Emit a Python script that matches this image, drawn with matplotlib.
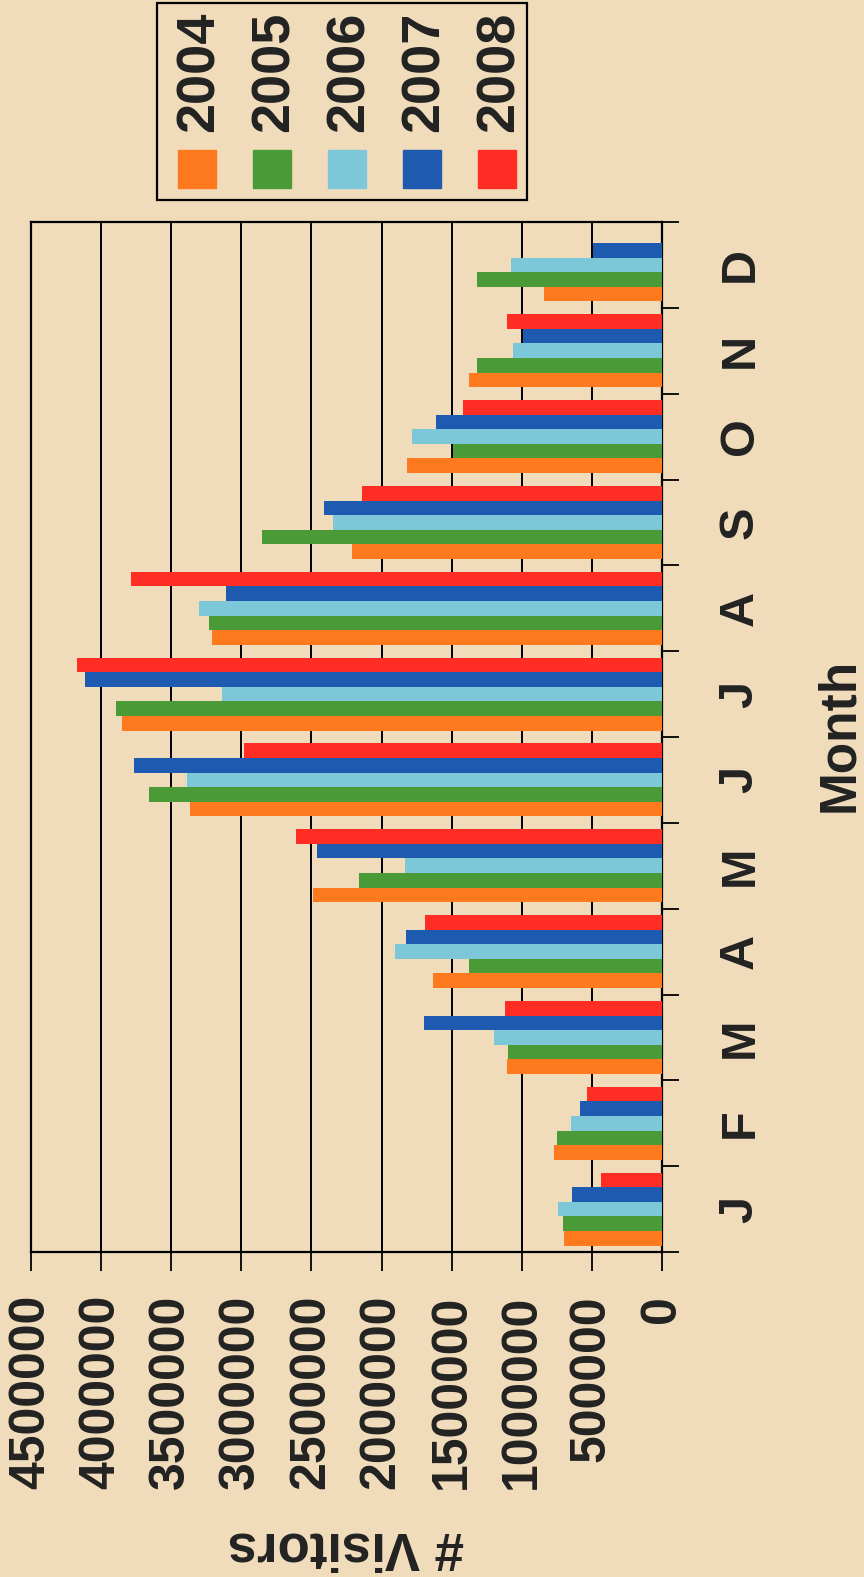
import numpy as np
import matplotlib.pyplot as plt
from matplotlib.patches import Rectangle

# --- data (visitors per month) ---
months = ["J", "F", "M", "A", "M", "J", "J", "A", "S", "O", "N", "D"]
years = ["2004", "2005", "2006", "2007", "2008"]
colors = ["#FF7A1E", "#4B9A38", "#7DC8D8", "#1E5AAF", "#FF2D23"]

v2004 = [697000, 768000, 1107000, 1633000, 2491000, 3364000, 3852000, 3210000, 2210000, 1817000, 1376000, 838000]
v2005 = [707000, 752000, 1101000, 1375000, 2159000, 3661000, 3891000, 3231000, 2855000, 1491000, 1322000, 1322000]
v2006 = [744000, 652000, 1196000, 1906000, 1832000, 3391000, 3136000, 3305000, 2343000, 1781000, 1062000, 1080000]
v2007 = [640000, 587000, 1694000, 1826000, 2461000, 3762000, 4112000, 3112000, 2414000, 1609000, 990000, 495000]
v2008 = [437000, 534000, 1119000, 1692000, 2607000, 2978000, 4169000, 3787000, 2142000, 1417000, 1107000, np.nan]
series = [v2004, v2005, v2006, v2007, v2008]

value_ticks = np.arange(0, 4500001, 500000)

bg = "#F0DCBB"
W, H = 864, 1577
fig = plt.figure(figsize=(W / 100, H / 100), dpi=100, facecolor=bg)
plt.rcParams["font.family"] = ["Liberation Sans", "DejaVu Sans"]
plt.rcParams["font.weight"] = "bold"

# axes in pixel coordinates (chart is shown rotated 90 deg)
left, right, top, bottom = 31, 662, 222, 1252
ax = fig.add_axes([left / W, 1 - bottom / H, (right - left) / W, (bottom - top) / H])
ax.set_facecolor("none")

y = np.arange(len(months))
bh = 0.17
for k, (vals, c) in enumerate(zip(series, colors)):
    ax.barh(y + (k - 2) * bh, vals, height=bh, color=c, zorder=3)

ax.set_xlim(4500000, 0)
ax.set_ylim(-0.5, 11.5)
ax.set_axisbelow(True)
ax.grid(axis="x", color="black", lw=1.4)

for s in ax.spines.values():
    s.set_color("black")
    s.set_linewidth(1.6)

# value axis (bottom)
ax.set_xticks(value_ticks)
ax.set_xticklabels([str(v) for v in value_ticks], rotation=90, fontsize=36, fontweight="bold", color="#222222")
ax.tick_params(axis="x", direction="out", length=14, width=1.3, pad=17)

# month axis (right)
ax.yaxis.tick_right()
ax.set_yticks(np.arange(-0.5, 12, 1))
ax.set_yticklabels([])
ax.tick_params(axis="y", which="major", direction="out", length=12, width=1.3)
ax.set_yticks(y, minor=True)
ax.set_yticklabels(months, minor=True, fontsize=35, fontweight="bold", color="#222222")
ax.tick_params(axis="y", which="minor", length=0, pad=40)
for lab in ax.get_yticklabels(minor=True):
    lab.set_rotation(90)
    lab.set_va("center")
    lab.set_ha("left")

# axis titles
fig.text(840 / W, 1 - 735 / H, "Month", rotation=90, ha="center", va="center",
         fontsize=37, fontweight="bold", color="#222222")
fig.text(346 / W, 1 - 1546 / H, "# Visitors", rotation=180, ha="center", va="center",
         fontsize=38, fontweight="bold", color="#222222")

# legend (drawn rotated)
fig.patches.append(Rectangle((157 / W, 1 - 200 / H), 370 / W, 197 / H, transform=fig.transFigure,
                             fill=False, edgecolor="black", lw=1.6))
for k, (yr, c) in enumerate(zip(years, colors)):
    cx = 197 + k * 75
    fig.patches.append(Rectangle(((cx - 19) / W, 1 - 188 / H), 38 / W, 38 / H,
                                 transform=fig.transFigure, color=c))
    fig.text((cx + 3) / W, 1 - 12 / H, yr, rotation=90, ha="center", va="top",
             fontsize=39, fontweight="bold", color="#222222")

fig.savefig("out.png", dpi=100, facecolor=bg)
